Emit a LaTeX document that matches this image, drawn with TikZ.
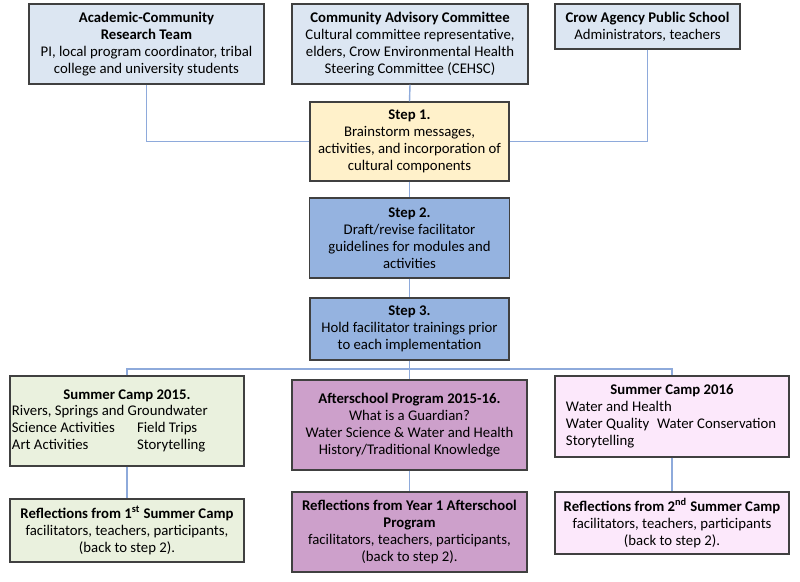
\documentclass[tikz,border=0pt]{standalone}
\usepackage{fontspec}
\setmainfont{Carlito}
\usetikzlibrary{positioning}

\definecolor{topblue}{RGB}{220,230,242}
\definecolor{stepyellow}{RGB}{255,241,202}
\definecolor{stepblue}{RGB}{149,179,224}
\definecolor{campgreen}{RGB}{234,241,222}
\definecolor{schoolpurple}{RGB}{205,160,203}
\definecolor{camppink}{RGB}{252,232,251}
\definecolor{linkblue}{RGB}{142,170,219}

\tikzset{
  box/.style={draw=black!75, line width=0.9pt, align=center, inner sep=1pt,
    font=\fontsize{10.5}{12}\selectfont},
  link/.style={draw=linkblue, line width=1pt}
}

\begin{document}
\begin{tikzpicture}[x=0.025cm,y=0.025cm]
        \useasboundingbox (0,0) rectangle (800,581);

        % partners
        \node[box, fill=topblue, minimum width=5.875cm, minimum height=2cm] (acad) at (146.5,537)
            {\textbf{Academic-Community}\\\textbf{Research Team}\\PI, local program coordinator, tribal\\college and university students};
        \node[box, fill=topblue, minimum width=5.9cm, minimum height=2cm] (cac) at (410,537)
            {\textbf{Community Advisory Committee}\\Cultural committee representative,\\elders, Crow Environmental Health\\Steering Committee (CEHSC)};
        \node[box, fill=topblue, minimum width=4.625cm, minimum height=1.125cm] (school) at (647.5,554.5)
            {\textbf{Crow Agency Public School}\\Administrators, teachers};

        % steps
        \node[box, fill=stepyellow, minimum width=4.975cm, minimum height=1.975cm] (step1) at (409.5,439.5)
            {\textbf{Step 1.}\\Brainstorm messages,\\activities, and incorporation of\\cultural components};
        \node[box, fill=stepblue, minimum width=5cm, minimum height=2cm] (step2) at (409.5,343)
            {\textbf{Step 2.}\\Draft/revise facilitator\\guidelines for modules and\\activities};
        \node[box, fill=stepblue, minimum width=4.975cm, minimum height=1.55cm] (step3) at (409.5,252)
            {\textbf{Step 3.}\\Hold facilitator trainings prior\\to each implementation};

        % implementations
        \node[box, fill=campgreen, inner sep=0pt, minimum width=5.85cm, minimum height=2.25cm] (camp1) at (127,160)
            {\begin{tabular}{@{}p{3.125cm}@{}p{2.625cm}@{}}
             \multicolumn{2}{@{}c@{}}{\textbf{Summer Camp 2015.}}\\
             \multicolumn{2}{@{}l@{}}{Rivers, Springs and Groundwater}\\
             Science Activities & Field Trips\\
             Art Activities & Storytelling
             \end{tabular}};
        \node[box, fill=schoolpurple, minimum width=5.875cm, minimum height=2.25cm] (after) at (409.5,156)
            {\textbf{Afterschool Program 2015-16.}\\What is a Guardian?\\Water Science \& Water and Health\\History/Traditional Knowledge};
        \node[box, fill=camppink, inner sep=0pt, minimum width=5.85cm, minimum height=2.025cm] (camp2) at (672,164.5)
            {\begin{tabular}{@{}p{2.275cm}@{}p{3.025cm}@{}}
             \multicolumn{2}{@{}c@{}}{\textbf{Summer Camp 2016}}\\
             \multicolumn{2}{@{}l@{}}{Water and Health}\\
             Water Quality & Water Conservation\\
             \multicolumn{2}{@{}l@{}}{Storytelling}
             \end{tabular}};

        % reflections
        \node[box, fill=campgreen, minimum width=5.85cm, minimum height=1.575cm] (refl1) at (127,50.5)
            {\textbf{Reflections from 1\textsuperscript{st} Summer Camp}\\facilitators, teachers, participants,\\(back to step 2).};
        \node[box, fill=schoolpurple, minimum width=5.875cm, minimum height=2cm] (refl2) at (409.5,49)
            {\textbf{Reflections from Year 1 Afterschool}\\\textbf{Program}\\facilitators, teachers, participants,\\(back to step 2).};
        \node[box, fill=camppink, minimum width=5.85cm, minimum height=1.55cm] (refl3) at (672,58)
            {\textbf{Reflections from 2\textsuperscript{nd} Summer Camp}\\facilitators, teachers, participants\\(back to step 2).};

        \coordinate (bus) at (409.5,212);

        % connectors
        \draw[link] (acad.south) |- (step1.west);
        \draw[link] (school.south) |- (step1.east);
        \draw[link] (cac.south) -- (step1.north);
        \draw[link] (step1.south) -- (step2.north);
        \draw[link] (step2.south) -- (step3.north);
        \draw[link] (step3.south) -- (after.north);
        \draw[link] (camp1.north) |- (bus) -| (camp2.north);
        \draw[link] (camp1.south) -- (refl1.north);
        \draw[link] (after.south) -- (refl2.north);
        \draw[link] (camp2.south) -- (refl3.north);
\end{tikzpicture}
\end{document}
